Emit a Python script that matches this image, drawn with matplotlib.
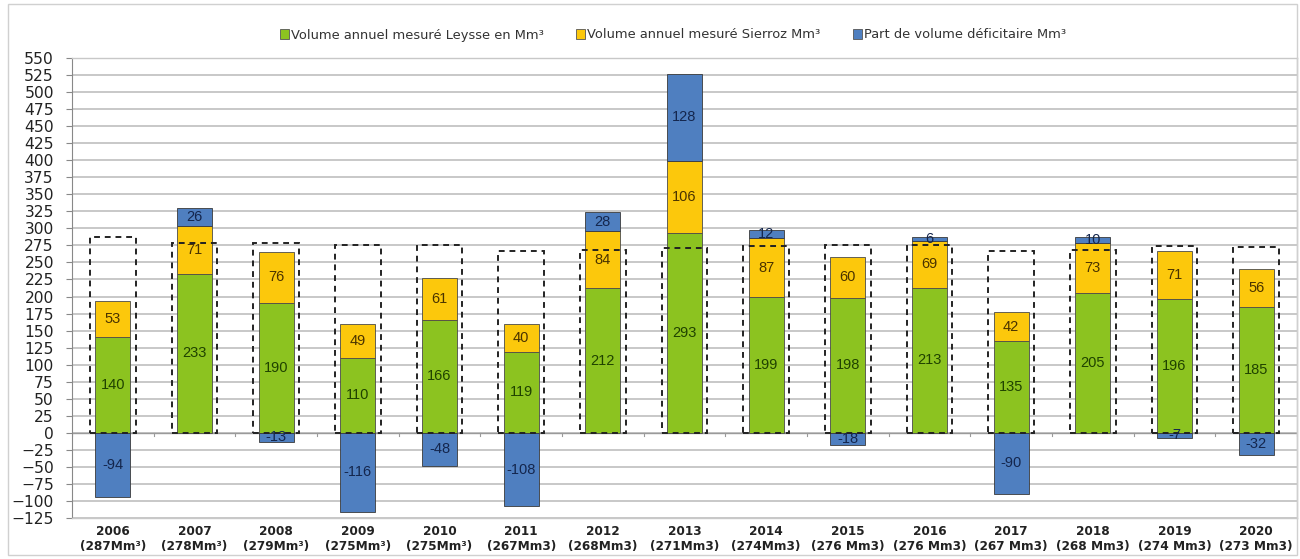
import matplotlib
matplotlib.use("Agg")
import matplotlib.pyplot as plt
from matplotlib.patches import Rectangle, Patch
import numpy as np

plt.rcParams['font.family'] = ['Liberation Sans', 'DejaVu Sans']

years = ["2006", "2007", "2008", "2009", "2010", "2011", "2012", "2013",
         "2014", "2015", "2016", "2017", "2018", "2019", "2020"]
ref_labels = ["(287Mm³)", "(278Mm³)", "(279Mm³)", "(275Mm³)", "(275Mm³)", "(267Mm3)",
              "(268Mm3)", "(271Mm3)", "(274Mm3)", "(276 Mm3)", "(276 Mm3)", "(267 Mm3)",
              "(268 Mm3)", "(274 Mm3)", "(273 Mm3)"]
ref_volume = [287, 278, 279, 275, 275, 267, 268, 271, 274, 276, 276, 267, 268, 274, 273]
leysse = [140, 233, 190, 110, 166, 119, 212, 293, 199, 198, 213, 135, 205, 196, 185]
sierroz = [53, 71, 76, 49, 61, 40, 84, 106, 87, 60, 69, 42, 73, 71, 56]
deficit = [-94, 26, -13, -116, -48, -108, 28, 128, 12, -18, 6, -90, 10, -7, -32]

c_green = '#8cc320'
c_yellow = '#fcc80c'
c_blue = '#4f7fc0'
t_green = '#1f4200'
t_yellow = '#4a3300'
t_blue = '#14264d'

fig = plt.figure(figsize=(13, 5.59), dpi=100)
ax = fig.add_axes([72/1300, 41/559, (1297-72)/1300, (518-58)/559])

x = np.arange(len(years))
w = 0.43
wbox = 0.56

leysse = np.array(leysse)
sierroz = np.array(sierroz)
deficit = np.array(deficit)

ax.bar(x, leysse, w, color=c_green, edgecolor='#4a4a4a', linewidth=0.6, zorder=3)
ax.bar(x, sierroz, w, bottom=leysse, color=c_yellow, edgecolor='#4a4a4a', linewidth=0.6, zorder=3)
dbottom = np.where(deficit > 0, leysse + sierroz, 0)
ax.bar(x, deficit, w, bottom=dbottom, color=c_blue, edgecolor='#3a3a3a', linewidth=0.6, zorder=3)

# dashed reference boxes
ax.bar(x, ref_volume, wbox, fill=False, edgecolor='#222222', linewidth=1.4,
       linestyle=(0, (3, 2.5)), zorder=4)

fs = 10.5
for i in range(len(years)):
    ax.text(x[i], leysse[i] / 2, str(leysse[i]), ha='center', va='center',
            fontsize=fs, color=t_green, zorder=5)
    ax.text(x[i], leysse[i] + sierroz[i] / 2, str(sierroz[i]), ha='center', va='center',
            fontsize=fs, color=t_yellow, zorder=5)
    ax.text(x[i], dbottom[i] + deficit[i] / 2, str(deficit[i]), ha='center', va='center',
            fontsize=fs, color=t_blue, zorder=5)

ax.set_ylim(-125, 550)
ax.set_xlim(-0.5, len(years) - 0.5)
ax.set_yticks(np.arange(-125, 551, 25))
ax.tick_params(axis='y', length=4, color='#888888', labelcolor='#222222', pad=9)
for lab in ax.get_yticklabels():
    lab.set_fontfamily('DejaVu Sans')
    lab.set_fontsize(11.2)
ax.yaxis.grid(True, color='#c4c4c4', linewidth=1.3, zorder=0)
ax.set_axisbelow(True)

ax.set_xticks(x)
ax.set_xticklabels([f"{y}\n{r}" for y, r in zip(years, ref_labels)],
                   fontsize=8.7, fontweight='bold', color='#222222', linespacing=1.25,
                   fontfamily='DejaVu Sans')
ax.tick_params(axis='x', length=0, pad=5)

for s in ['top', 'right', 'bottom']:
    ax.spines[s].set_color('#c8c8c8')
    ax.spines[s].set_linewidth(1.0)
ax.spines['left'].set_color('#888888')

# zero category axis with small ticks between categories
ax.axhline(0, color='#9a9a9a', linewidth=1.0, zorder=2)
for b in np.arange(-0.5, len(years), 1.0):
    ax.plot([b, b], [-4, 0], color='#9a9a9a', linewidth=0.8, zorder=2)

handles = [Patch(facecolor=c_green, edgecolor='#555555', linewidth=0.6),
           Patch(facecolor=c_yellow, edgecolor='#555555', linewidth=0.6),
           Patch(facecolor=c_blue, edgecolor='#555555', linewidth=0.6)]
labels = ["Volume annuel mesuré Leysse en Mm³", "Volume annuel mesuré Sierroz Mm³",
          "Part de volume déficitaire Mm³"]
fig.legend(handles, labels, loc='center', bbox_to_anchor=(673/1300, 1 - 35/559),
           ncol=3, frameon=False, prop={'family': 'DejaVu Sans', 'size': 9.4},
           handlelength=0.7, handleheight=0.7,
           handletextpad=0.15, columnspacing=2.5, labelcolor='#333333')

# outer chart border
fig.patches.append(Rectangle((8/1300, 4/559), 1289/1300, 551/559, transform=fig.transFigure,
                             fill=False, edgecolor='#d0d0d0', linewidth=1.0))

fig.savefig('out.png', dpi=100)
